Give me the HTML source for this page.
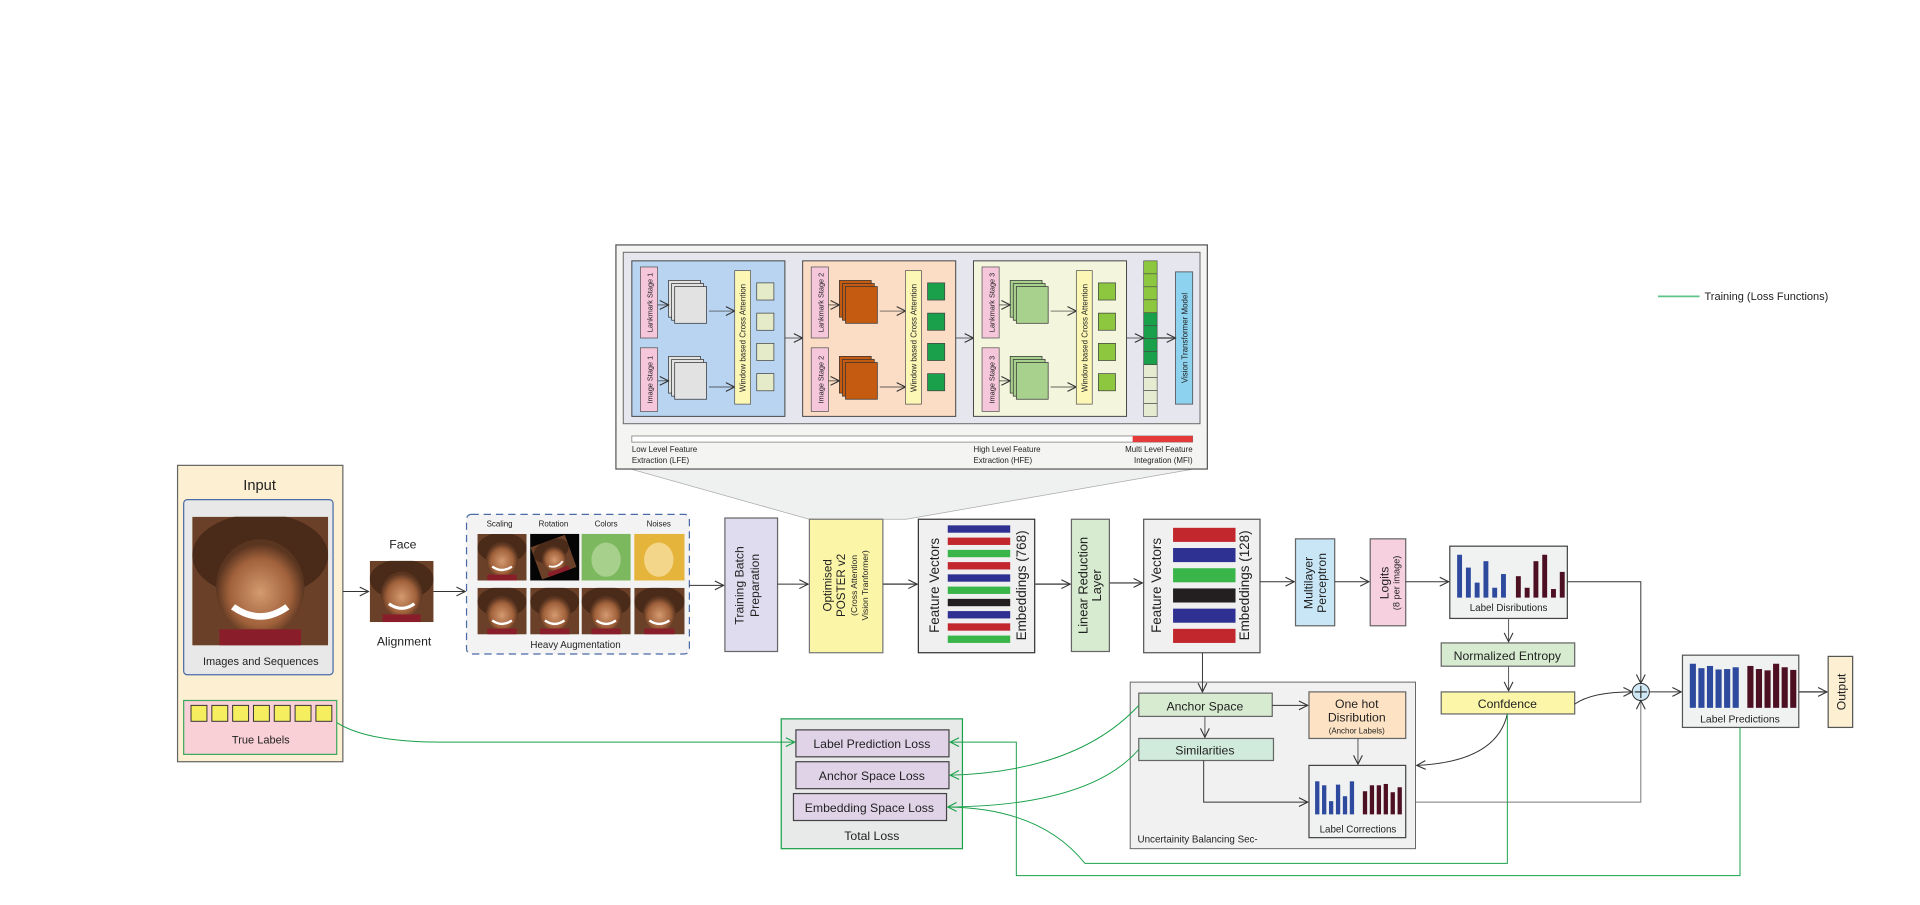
<!DOCTYPE html>
<html><head><meta charset="utf-8"><style>
html,body{margin:0;padding:0;background:#fff;}
svg{display:block;font-family:"Liberation Sans",sans-serif;}
text{fill:#222;}
</style></head><body>
<svg id="main" width="1920" height="905" viewBox="0 0 1568 739" preserveAspectRatio="none" xmlns="http://www.w3.org/2000/svg">
<defs>
<marker id="ah" viewBox="0 0 10 10" refX="9" refY="5" markerWidth="9" markerHeight="9" orient="auto" markerUnits="userSpaceOnUse"><path d="M1,1 L9,5 L1,9" fill="none" stroke="#333" stroke-width="1"/></marker>
<marker id="ag" viewBox="0 0 10 10" refX="9" refY="5" markerWidth="9" markerHeight="9" orient="auto" markerUnits="userSpaceOnUse"><path d="M1,1 L9,5 L1,9" fill="none" stroke="#1aa04a" stroke-width="1"/></marker>
<radialGradient id="skin" cx="50%" cy="55%" r="50%"><stop offset="0" stop-color="#d49a70"/><stop offset="0.7" stop-color="#a0613b"/><stop offset="1" stop-color="#5a3520"/></radialGradient>
<symbol id="face" viewBox="0 0 40 40" preserveAspectRatio="none">
<rect width="40" height="40" fill="#6b4028"/>
<ellipse cx="20" cy="12" rx="20" ry="13" fill="#4a2a18"/>
<ellipse cx="20" cy="22" rx="13" ry="15" fill="url(#skin)"/>
<path d="M12,28 Q20,34 28,28" stroke="#fff" stroke-width="2" fill="none"/>
<rect x="8" y="35" width="24" height="5" fill="#8a1d2a"/>
</symbol>
</defs>

<!-- legend -->
<line x1="1354" y1="242" x2="1388" y2="242" stroke="#5cc48a" stroke-width="1.5"/>
<text x="1392" y="245" font-size="9">Training (Loss Functions)</text>

<!-- funnel -->
<polygon points="515,383 975,383 740,424 661,424" fill="#eff0f0" stroke="#aaa" stroke-width="0.6"/>

<!-- top detail box -->
<g>
<rect x="503" y="200" width="483" height="183" fill="#f4f4f3" stroke="#555" stroke-width="1"/>
<rect x="509" y="206" width="471" height="140" fill="#e6e6ef" stroke="#666" stroke-width="0.8"/>
<g id="stages"></g>
<g id="strip"></g>
<rect x="960" y="222" width="14" height="108" fill="#8dd3f0" stroke="#555" stroke-width="0.7"/>
<text x="970" y="276" font-size="6.5" text-anchor="middle" transform="rotate(-90 970 276)">Vision Transformer Model</text>
<line x1="920" y1="276" x2="934" y2="276" stroke="#333" stroke-width="0.7" marker-end="url(#ah)"/>
<line x1="945" y1="276" x2="960" y2="276" stroke="#555" stroke-width="1.2" marker-end="url(#ah)"/>
<rect x="516" y="356" width="458" height="5" fill="#fff" stroke="#777" stroke-width="0.6"/>
<rect x="925" y="356" width="49" height="5" fill="#e53a3a"/>
<text x="516" y="369" font-size="6.5">Low Level Feature</text>
<text x="516" y="378" font-size="6.5">Extraction (LFE)</text>
<text x="795" y="369" font-size="6.5">High Level Feature</text>
<text x="795" y="378" font-size="6.5">Extraction (HFE)</text>
<text x="974" y="369" font-size="6.5" text-anchor="end">Multi Level Feature</text>
<text x="974" y="378" font-size="6.5" text-anchor="end">Integration (MFI)</text>
</g>

<!-- Input -->
<g>
<rect x="145" y="380" width="135" height="242" fill="#fdf0d2" stroke="#666" stroke-width="1"/>
<text x="212" y="400" font-size="12" text-anchor="middle">Input</text>
<rect x="150" y="408" width="122" height="143" rx="3" fill="#e8e8e8" stroke="#4a6aa8" stroke-width="1"/>
<use href="#face" x="157" y="422" width="111" height="105"/>
<text x="213" y="543" font-size="9" text-anchor="middle">Images and Sequences</text>
<rect x="150" y="572" width="125" height="44" fill="#f9d0d6" stroke="#3aa860" stroke-width="1"/>
<g id="labels-sq"></g>
<text x="213" y="607" font-size="9" text-anchor="middle">True Labels</text>
</g>

<!-- face alignment -->
<text x="329" y="448" font-size="10" text-anchor="middle">Face</text>
<use href="#face" x="302" y="458" width="52" height="50"/>
<text x="330" y="527" font-size="10" text-anchor="middle">Alignment</text>
<line x1="280" y1="483" x2="301" y2="483" stroke="#333" stroke-width="0.8" marker-end="url(#ah)"/>
<line x1="354" y1="483" x2="380" y2="483" stroke="#333" stroke-width="0.8" marker-end="url(#ah)"/>

<!-- augmentation -->
<g>
<rect x="381" y="420" width="182" height="114" rx="4" fill="#f3f3f3" stroke="#4a6aa8" stroke-width="1" stroke-dasharray="6,4"/>
<text x="408" y="430" font-size="6.5" text-anchor="middle">Scaling</text>
<text x="452" y="430" font-size="6.5" text-anchor="middle">Rotation</text>
<text x="495" y="430" font-size="6.5" text-anchor="middle">Colors</text>
<text x="538" y="430" font-size="6.5" text-anchor="middle">Noises</text>
<use href="#face" x="390" y="436" width="40" height="38"/>
<rect x="433" y="436" width="40" height="38" fill="#050505"/>
<use href="#face" x="437" y="441" width="30" height="28" transform="rotate(-20 452 455)"/>
<rect x="475" y="436" width="40" height="38" fill="#7cb85e"/>
<ellipse cx="495" cy="457" rx="12" ry="14" fill="#a6d08c"/>
<rect x="518" y="436" width="41" height="38" fill="#e5b43a"/>
<ellipse cx="538" cy="457" rx="12" ry="14" fill="#f4d68a"/>
<use href="#face" x="390" y="480" width="40" height="38"/>
<use href="#face" x="433" y="480" width="40" height="38"/>
<use href="#face" x="475" y="480" width="40" height="38"/>
<use href="#face" x="518" y="480" width="41" height="38"/>
<text x="470" y="529" font-size="8" text-anchor="middle">Heavy Augmentation</text>
</g>
<line x1="563" y1="478" x2="591" y2="478" stroke="#333" stroke-width="0.8" marker-end="url(#ah)"/>

<!-- pipeline boxes -->
<rect x="592" y="423" width="43" height="109" fill="#e0dcef" stroke="#666" stroke-width="1"/>
<text x="607" y="478" font-size="10" text-anchor="middle" transform="rotate(-90 607 478)">Training Batch</text>
<text x="620" y="478" font-size="10" text-anchor="middle" transform="rotate(-90 620 478)">Preparation</text>
<line x1="635" y1="477" x2="660" y2="477" stroke="#333" stroke-width="0.8" marker-end="url(#ah)"/>

<rect x="661" y="424" width="60" height="109" fill="#fbf5a8" stroke="#777" stroke-width="1"/>
<text x="679" y="478" font-size="9.5" text-anchor="middle" transform="rotate(-90 679 478)">Optimised</text>
<text x="690" y="478" font-size="9.5" text-anchor="middle" transform="rotate(-90 690 478)">POSTER v2</text>
<text x="700" y="478" font-size="7" text-anchor="middle" transform="rotate(-90 700 478)">(Cross Attention</text>
<text x="709" y="478" font-size="7" text-anchor="middle" transform="rotate(-90 709 478)">Vision Tranformer)</text>
<line x1="721" y1="477" x2="749" y2="477" stroke="#555" stroke-width="1.2" marker-end="url(#ah)"/>

<rect x="750" y="424" width="95" height="109" fill="#f0f0f0" stroke="#333" stroke-width="1"/>
<g id="fv768"></g>
<text x="767" y="478" font-size="11" text-anchor="middle" transform="rotate(-90 767 478)">Feature Vectors</text>
<text x="838" y="478" font-size="11" text-anchor="middle" transform="rotate(-90 838 478)">Embeddings (768)</text>
<line x1="845" y1="477" x2="874" y2="477" stroke="#555" stroke-width="1.2" marker-end="url(#ah)"/>

<rect x="875" y="424" width="31" height="108" fill="#d7ebd0" stroke="#666" stroke-width="1"/>
<text x="888" y="478" font-size="10.5" text-anchor="middle" transform="rotate(-90 888 478)">Linear Reduction</text>
<text x="899" y="478" font-size="10.5" text-anchor="middle" transform="rotate(-90 899 478)">Layer</text>
<line x1="906" y1="476" x2="933" y2="476" stroke="#555" stroke-width="1.2" marker-end="url(#ah)"/>

<rect x="934" y="424" width="95" height="109" fill="#f0f0f0" stroke="#555" stroke-width="1"/>
<g id="fv128"></g>
<text x="948" y="478" font-size="11" text-anchor="middle" transform="rotate(-90 948 478)">Feature Vectors</text>
<text x="1020" y="478" font-size="11" text-anchor="middle" transform="rotate(-90 1020 478)">Embeddings (128)</text>
<line x1="1029" y1="475" x2="1057" y2="475" stroke="#333" stroke-width="0.8" marker-end="url(#ah)"/>

<rect x="1058" y="440" width="32" height="71" fill="#c9e6f7" stroke="#666" stroke-width="1"/>
<text x="1072" y="476" font-size="10" text-anchor="middle" transform="rotate(-90 1072 476)">Multilayer</text>
<text x="1083" y="476" font-size="10" text-anchor="middle" transform="rotate(-90 1083 476)">Perceptron</text>
<line x1="1090" y1="475" x2="1118" y2="475" stroke="#333" stroke-width="0.8" marker-end="url(#ah)"/>

<rect x="1119" y="440" width="29" height="71" fill="#f7d0e0" stroke="#666" stroke-width="1"/>
<text x="1134" y="476" font-size="10" text-anchor="middle" transform="rotate(-90 1134 476)">Logits</text>
<text x="1143" y="476" font-size="7.5" text-anchor="middle" transform="rotate(-90 1143 476)">(8 per image)</text>
<line x1="1148" y1="475" x2="1183" y2="475" stroke="#333" stroke-width="0.8" marker-end="url(#ah)"/>

<rect x="1184" y="446" width="96" height="59" fill="#f0f1f1" stroke="#444" stroke-width="1"/>
<g id="ld"></g>
<text x="1232" y="499" font-size="8" text-anchor="middle">Label Disributions</text>
<line x1="1232" y1="505" x2="1232" y2="524" stroke="#555" stroke-width="0.8" marker-end="url(#ah)"/>

<rect x="1177" y="525" width="109" height="19" fill="#d7ebd0" stroke="#666" stroke-width="1"/>
<text x="1231" y="539" font-size="10" text-anchor="middle">Normalized Entropy</text>
<line x1="1232" y1="544" x2="1232" y2="564" stroke="#555" stroke-width="0.8" marker-end="url(#ah)"/>

<rect x="1177" y="565" width="109" height="18" fill="#fbf6a8" stroke="#666" stroke-width="1"/>
<text x="1231" y="578" font-size="10" text-anchor="middle">Confdence</text>

<!-- plus node -->
<circle cx="1340" cy="565" r="7" fill="#cfe8f5" stroke="#333" stroke-width="0.8"/>
<line x1="1335" y1="565" x2="1345" y2="565" stroke="#333" stroke-width="1"/>
<line x1="1340" y1="560" x2="1340" y2="570" stroke="#333" stroke-width="1"/>
<polyline points="1280,475 1340,475 1340,558" fill="none" stroke="#333" stroke-width="0.8" marker-end="url(#ah)"/>
<path d="M1286,575 Q1300,565 1333,565" fill="none" stroke="#333" stroke-width="0.8" marker-end="url(#ah)"/>
<polyline points="1148,655 1340,655 1340,572" fill="none" stroke="#777" stroke-width="0.8" marker-end="url(#ah)"/>
<line x1="1347" y1="565" x2="1373" y2="565" stroke="#333" stroke-width="0.8" marker-end="url(#ah)"/>

<rect x="1374" y="535" width="95" height="59" fill="#f0f1f1" stroke="#555" stroke-width="1"/>
<g id="lp"></g>
<text x="1421" y="590" font-size="8.5" text-anchor="middle">Label Predictions</text>
<line x1="1469" y1="565" x2="1492" y2="565" stroke="#555" stroke-width="1.2" marker-end="url(#ah)"/>
<rect x="1493" y="536" width="20" height="58" fill="#fdf0d2" stroke="#555" stroke-width="1"/>
<text x="1507" y="565" font-size="10" text-anchor="middle" transform="rotate(-90 1507 565)">Output</text>

<!-- uncertainty section -->
<g>
<rect x="923" y="557" width="233" height="136" fill="#f0f1f0" stroke="#666" stroke-width="0.8"/>
<line x1="982" y1="533" x2="982" y2="565" stroke="#333" stroke-width="0.8" marker-end="url(#ah)"/>
<rect x="930" y="566" width="109" height="19" fill="#d7ebd0" stroke="#666" stroke-width="1"/>
<text x="984" y="580" font-size="10" text-anchor="middle">Anchor Space</text>
<line x1="1039" y1="576" x2="1068" y2="576" stroke="#333" stroke-width="0.8" marker-end="url(#ah)"/>
<line x1="984" y1="585" x2="984" y2="602" stroke="#555" stroke-width="0.8" marker-end="url(#ah)"/>
<rect x="930" y="603" width="110" height="18" fill="#d0eadb" stroke="#666" stroke-width="1"/>
<text x="984" y="616" font-size="10" text-anchor="middle">Similarities</text>
<polyline points="983,621 983,655 1068,655" fill="none" stroke="#333" stroke-width="0.8" marker-end="url(#ah)"/>
<rect x="1069" y="565" width="79" height="38" fill="#fde3c4" stroke="#666" stroke-width="1"/>
<text x="1108" y="578" font-size="10" text-anchor="middle">One hot</text>
<text x="1108" y="589" font-size="10" text-anchor="middle">Disribution</text>
<text x="1108" y="599" font-size="6.5" text-anchor="middle">(Anchor Labels)</text>
<line x1="1109" y1="603" x2="1109" y2="624" stroke="#555" stroke-width="0.8" marker-end="url(#ah)"/>
<rect x="1069" y="625" width="79" height="59" fill="#f0f1f1" stroke="#444" stroke-width="1"/>
<g id="lc"></g>
<text x="1109" y="680" font-size="8" text-anchor="middle">Label Corrections</text>
<text x="929" y="688" font-size="8">Uncertainity Balancing Sec-</text>
<path d="M1231,583 Q1222,622 1157,625" fill="none" stroke="#333" stroke-width="0.8" marker-end="url(#ah)"/>
</g>

<!-- total loss -->
<g>
<rect x="638" y="587" width="148" height="106" fill="#e8e9e9" stroke="#1aa04a" stroke-width="1"/>
<rect x="650" y="596" width="125" height="22" fill="#e0d3e8" stroke="#444" stroke-width="1"/>
<text x="712" y="611" font-size="10" text-anchor="middle">Label Prediction Loss</text>
<rect x="650" y="622" width="125" height="22" fill="#e0d3e8" stroke="#444" stroke-width="1"/>
<text x="712" y="637" font-size="10" text-anchor="middle">Anchor Space Loss</text>
<rect x="648" y="648" width="125" height="22" fill="#e0d3e8" stroke="#444" stroke-width="1"/>
<text x="710" y="663" font-size="10" text-anchor="middle">Embedding Space Loss</text>
<text x="712" y="686" font-size="10" text-anchor="middle">Total Loss</text>
</g>

<!-- green training lines -->
<g fill="none" stroke="#1aa04a" stroke-width="0.8">
<path d="M275,590 Q300,606 360,606 L649,606" marker-end="url(#ag)"/>
<polyline points="1421,594 1421,715 830,715 830,606 776,606" marker-end="url(#ag)"/>
<path d="M930,576 Q880,630 776,633" marker-end="url(#ag)"/>
<path d="M930,612 Q890,658 774,659" marker-end="url(#ag)"/>
<path d="M1231,583 L1231,705 L886,705 Q850,660 774,659"/>
</g>

<script>
var NS='http://www.w3.org/2000/svg';
function mk(tag,attrs,parent){var e=document.createElementNS(NS,tag);for(var k in attrs)e.setAttribute(k,attrs[k]);parent.appendChild(e);return e;}
// bar chart data (bar heights, relative 0-1)
var distBlue=[1.0,0.7,0.35,0.85,0.23,0.55];
var distRed=[0.5,0.23,0.85,1.0,0.2,0.6];
var predBlue=[1.0,0.9,0.95,0.87,0.88,0.92];
var predRed=[0.95,0.88,0.85,1.0,0.92,0.86];
var corrBlue=[1.0,0.88,0.4,0.9,0.55,1.0];
var corrRed=[0.7,0.88,0.88,0.92,0.67,0.82];
var fv768Colors=['#2e3192','#c1272d','#39b54a','#c1272d','#2e3192','#39b54a','#231f20','#2e3192','#c1272d','#39b54a'];
var fv128Colors=['#c1272d','#2e3192','#39b54a','#231f20','#2e3192','#c1272d'];
var stageNames=['1','2','3'];
var stageFill=['#b8d4f0','#fbdcc4','#f3f5dc'];
var stackFill=['#e2e2e2','#c55a11','#a9d18e'];
var tokenFill=['#e5ebc8','#1aa04a','#8dc63f'];
var stripColors=['#8dc63f','#8dc63f','#8dc63f','#8dc63f','#1aa04a','#1aa04a','#1aa04a','#1aa04a','#e5ebd0','#e5ebd0','#e5ebd0','#e5ebd0'];

function bars(gid,blue,red,x0,x1,base,maxH,bw){
  var g=document.getElementById(gid);var n=blue.length;var half=(x1-x0)/2;var step=(half-2)/n;
  blue.forEach(function(v,i){var h=v*maxH;var r=mk('rect',{x:x0+i*step,y:base-h,width:bw,height:h,fill:'#2e4a9e'},g);
    });
  red.forEach(function(v,i){var h=v*maxH;var r=mk('rect',{x:x0+half+3+i*step,y:base-h,width:bw,height:h,fill:'#4d0f22'},g);
    });
}
bars('ld',distBlue,distRed,1190,1280,488,35,4);
bars('lp',predBlue,predRed,1380,1468,578,36,5);
bars('lc',corrBlue,corrRed,1074,1146,665,27,3.5);

var g768=document.getElementById('fv768');
fv768Colors.forEach(function(c,i){var r=mk('rect',{x:774,y:429+i*10,width:51,height:6,fill:c},g768);
  });
var g128=document.getElementById('fv128');
fv128Colors.forEach(function(c,i){var r=mk('rect',{x:958,y:431+i*16.5,width:51,height:11.5,fill:c},g128);
  });

var sq=document.getElementById('labels-sq');
for(var i=0;i<7;i++){var r=mk('rect',{x:156+i*17,y:576,width:13,height:13,fill:'#f5ee5e',stroke:'#333','stroke-width':0.8},sq);
  }

var st=document.getElementById('stages');
stageNames.forEach(function(s,k){
  var ox=516+k*139.5;
  var p=mk('rect',{x:ox,y:213,width:125,height:127,fill:stageFill[k],stroke:'#444','stroke-width':0.8},st);
  
  mk('rect',{x:ox+7,y:218,width:14,height:58,fill:'#f6c6da',stroke:'#555','stroke-width':0.6},st);
  var t=mk('text',{x:ox+17,y:247,'font-size':6,'text-anchor':'middle',transform:'rotate(-90 '+(ox+17)+' 247)'},st);t.textContent='Lankmark Stage '+s;
  mk('rect',{x:ox+7,y:284,width:14,height:52,fill:'#f6c6da',stroke:'#555','stroke-width':0.6},st);
  t=mk('text',{x:ox+17,y:310,'font-size':6,'text-anchor':'middle',transform:'rotate(-90 '+(ox+17)+' 310)'},st);t.textContent='Image Stage '+s;
  [229,291].forEach(function(yy){
    for(var j=0;j<3;j++){mk('rect',{x:ox+30+j*2.5,y:yy+j*2.5,width:26,height:30,fill:stackFill[k],stroke:'#333','stroke-width':0.6},st);}
    mk('line',{x1:ox+21,y1:yy+20,x2:ox+30,y2:yy+20,stroke:'#333','stroke-width':0.6,'marker-end':'url(#ah)'},st);
    mk('line',{x1:ox+63,y1:yy+25,x2:ox+84,y2:yy+25,stroke:'#333','stroke-width':0.6,'marker-end':'url(#ah)'},st);
  });
  mk('rect',{x:ox+84,y:221,width:13,height:109,fill:'#fdf7b6',stroke:'#555','stroke-width':0.6},st);
  t=mk('text',{x:ox+93,y:276,'font-size':6.5,'text-anchor':'middle',transform:'rotate(-90 '+(ox+93)+' 276)'},st);t.textContent='Window based Cross Attention';
  for(var j=0;j<4;j++){var q=mk('rect',{x:ox+102,y:231+j*24.7,width:14,height:14,fill:tokenFill[k],stroke:'#444','stroke-width':0.6},st);
    }
  if(k<2){mk('line',{x1:ox+125,y1:276,x2:ox+139.5,y2:276,stroke:'#333','stroke-width':0.6,'marker-end':'url(#ah)'},st);}
});
var sp=document.getElementById('strip');
stripColors.forEach(function(c,i){var r=mk('rect',{x:934,y:213+i*10.6,width:11,height:10.6,fill:c,stroke:'#444','stroke-width':0.5},sp);
  });
</script>
</svg>
</body></html>
